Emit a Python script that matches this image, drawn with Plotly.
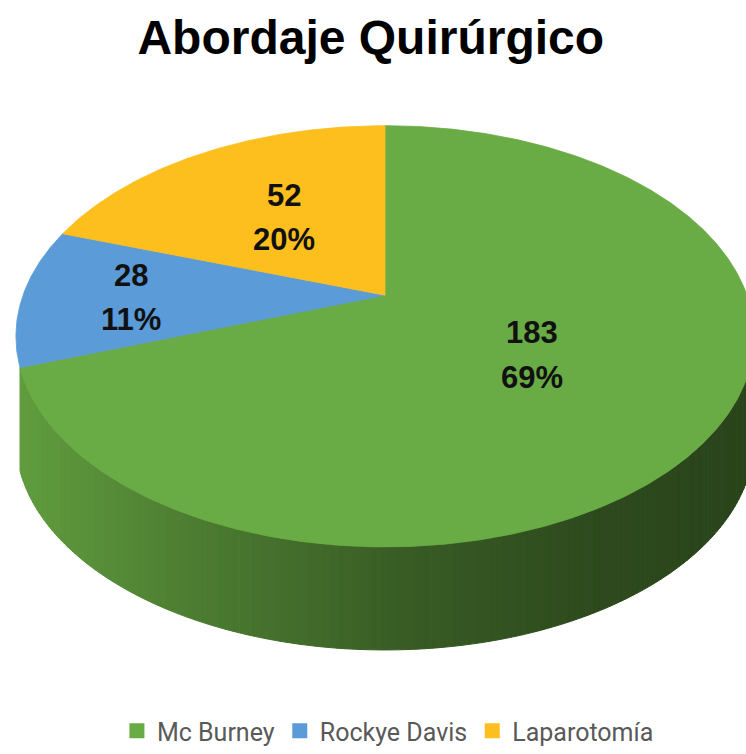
import numpy as np
import plotly.graph_objects as go

# ---------------- data ----------------
categories = ["Mc Burney", "Rockye Davis", "Laparotomía"]
counts = [183, 28, 52]
percent_labels = ["69%", "11%", "20%"]
title_text = "Abordaje Quirúrgico"

# ---------------- style ----------------
top_colors = [(105, 171, 68), (90, 155, 216), (252, 191, 30)]
label_radius = [0.47, 0.70, 0.52]          # radial fraction for data labels
W, H = 746, 754
CX, CY = 385, 298          # projected pie centre (pixel space)
A, B, K = 362, 204.5, 0.195  # perspective ellipse parameters
DEPTH = 104                # wall thickness

# wall shading (brightness factor vs screen x)
shade_x = [0, 15, 200, 400, 600, 746]
shade_f = [0.93, 0.92, 0.72, 0.54, 0.43, 0.40]


def proj(theta_deg, r=1.0):
    t = np.radians(theta_deg)
    u = r * np.sin(t)
    v = -r * np.cos(t)
    w = 1 - K * v
    return CX + A * u / w, CY + B * v / w


def rgb(c):
    return "rgb(%d,%d,%d)" % tuple(int(round(x)) for x in c)


total = sum(counts)
ends = np.cumsum(counts) / total * 360.0
starts = np.concatenate([[0.0], ends[:-1]])

fig = go.Figure()

# ---------------- side wall ----------------
th_lo = np.degrees(np.arccos(-K))
th_hi = 360 - th_lo
# thin slivers right at the silhouette are not rendered by the 3D view
for e in ends:
    if th_lo < e < th_hi and th_hi - e < 10:
        th_hi = e
nseg = 160
edges = np.linspace(th_lo, th_hi, nseg + 1)
for i in range(nseg):
    a0, a1 = edges[i], edges[i + 1]
    mid = 0.5 * (a0 + a1)
    k = int(np.searchsorted(ends, mid))
    k = min(k, len(counts) - 1)
    x0, y0 = proj(a0)
    x1, y1 = proj(a1)
    f = np.interp(0.5 * (x0 + x1), shade_x, shade_f)
    col = rgb([c * f for c in top_colors[k]])
    fig.add_trace(go.Scatter(
        x=[x0, x1, x1, x0, x0], y=[y0, y1, y1 + DEPTH, y0 + DEPTH, y0],
        mode="lines", fill="toself", fillcolor=col,
        line=dict(color=col, width=1), hoverinfo="skip", showlegend=False))

# ---------------- top face ----------------
for k in range(len(counts)):
    n = max(8, int((ends[k] - starts[k]) * 2))
    th = np.linspace(starts[k], ends[k], n)
    xs, ys = proj(th)
    xs = np.concatenate([[CX], xs, [CX]])
    ys = np.concatenate([[CY], ys, [CY]])
    col = rgb(top_colors[k])
    fig.add_trace(go.Scatter(
        x=xs, y=ys, mode="lines", fill="toself", fillcolor=col,
        line=dict(color=col, width=0.8), hoverinfo="skip", showlegend=False))

# ---------------- labels ----------------
for k in range(len(counts)):
    mid = 0.5 * (starts[k] + ends[k])
    lx, ly = proj(mid, label_radius[k])
    for txt, dy in ((str(counts[k]), -21), (percent_labels[k], 24)):
        fig.add_annotation(x=lx, y=ly + dy, text=txt, showarrow=False,
                           xref="x", yref="y",
                           font=dict(family="Liberation Sans", size=31,
                                     color="#111111", weight="bold"))

# ---------------- legend entries ----------------
for k, name in enumerate(categories):
    fig.add_trace(go.Scatter(
        x=[None], y=[None], mode="markers", name=name,
        marker=dict(symbol="square", size=15, color=rgb(top_colors[k]))))

fig.update_layout(
    width=W, height=H, autosize=False,
    margin=dict(l=0, r=0, t=0, b=0),
    paper_bgcolor="white", plot_bgcolor="white",
    xaxis=dict(range=[0, W], visible=False, fixedrange=True),
    yaxis=dict(range=[H, 0], visible=False, fixedrange=True),
    title=dict(text=title_text, x=0.497, xanchor="center",
               y=1 - 37 / H, yref="container", yanchor="middle",
               font=dict(family="Liberation Sans", size=48, color="#000000",
                         weight="bold")),
    legend=dict(orientation="h", x=0.52, xanchor="center",
                y=(H - 738) / H, yanchor="middle",
                font=dict(family="Roboto", size=25, color="#595959"),
                bgcolor="rgba(0,0,0,0)"),
    showlegend=True,
)

fig.write_html("out.html", config={"displayModeBar": False},
               post_script="document.body.style.margin='0';")
